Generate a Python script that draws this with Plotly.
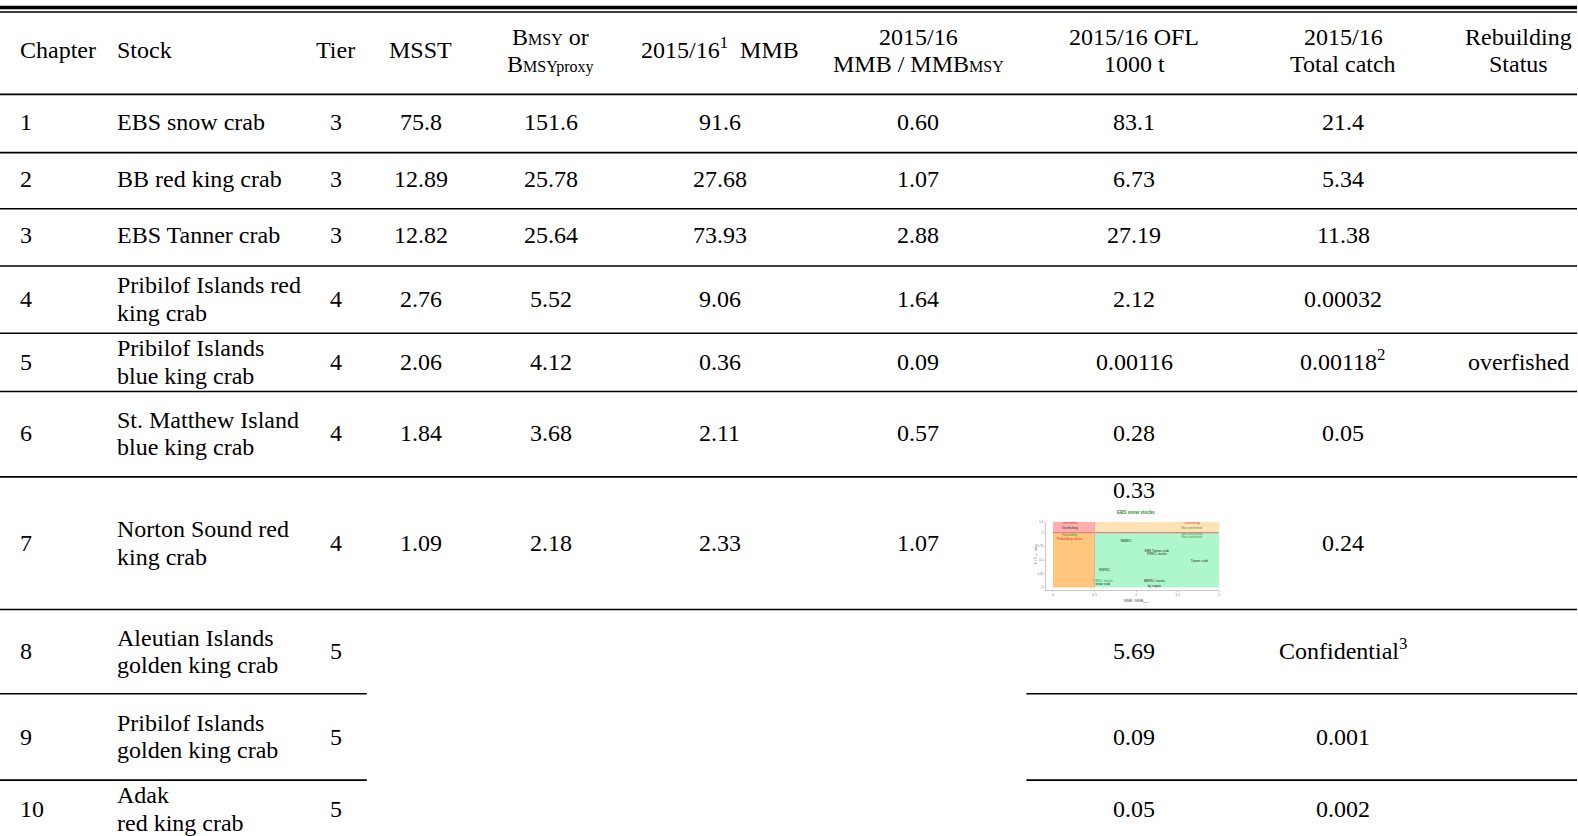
import plotly.graph_objects as go

# ---------------- data ----------------
chapters = ["1", "2", "3", "4", "5", "6", "7", "8", "9", "10"]
stocks = ["EBS snow crab", "BB red king crab", "EBS Tanner crab",
          "Pribilof Islands red<br>king crab", "Pribilof Islands<br>blue king crab",
          "St. Matthew Island<br>blue king crab", "Norton Sound red<br>king crab",
          "Aleutian Islands<br>golden king crab", "Pribilof Islands<br>golden king crab",
          "Adak<br>red king crab"]
tiers = ["3", "3", "3", "4", "4", "4", "4", "5", "5", "5"]
msst = ["75.8", "12.89", "12.82", "2.76", "2.06", "1.84", "1.09", "", "", ""]
bmsy = ["151.6", "25.78", "25.64", "5.52", "4.12", "3.68", "2.18", "", "", ""]
mmb = ["91.6", "27.68", "73.93", "9.06", "0.36", "2.11", "2.33", "", "", ""]
mmb_ratio = ["0.60", "1.07", "2.88", "1.64", "0.09", "0.57", "1.07", "", "", ""]
ofl = ["83.1", "6.73", "27.19", "2.12", "0.00116", "0.28", "0.33", "5.69", "0.09", "0.05"]
total_catch = ["21.4", "5.34", "11.38", "0.00032", "0.00118<sup>2</sup>", "0.05", "0.24",
               "Confidential<sup>3</sup>", "0.001", "0.002"]
status = ["", "", "", "", "overfished", "", "", "", "", ""]

SM = "<span style='font-size:16px'>{}</span>"
headers = ["Chapter", "Stock", "Tier", "MSST",
           "B" + SM.format("MSY") + " or<br>B" + SM.format("MSYproxy"),
           "2015/16<sup>1</sup>  MMB",
           "2015/16<br>MMB / MMB" + SM.format("MSY"),
           "2015/16 OFL<br>1000 t",
           "2015/16<br>Total catch",
           "Rebuilding<br>Status"]

# inset chart (EBS snow stocks) - zones and labels
inset_title = "EBS snow stocks"
zone_x0 = [0.0, 0.0, 0.5, 0.5]
zone_x1 = [0.5, 0.5, 2.0, 2.0]
zone_y0 = [1.0, 0.0, 1.0, 0.0]
zone_y1 = [1.2, 1.0, 1.2, 1.0]
zone_colors = ["#ffb0ae", "#ffc77e", "#ffe2b5", "#aef7cd"]
inset_lab = ["Overfished", "Overfishing", "Rebuilding", "Rebuilding stocks",
             "Overfishing", "Not overfished", "Not overfished", "Not overfished",
             "SMBKC", "EBS Tanner crab", "PIRKC stocks", "Tanner crab",
             "NSRKC", "PIBKC stocks", "snow crab", "BBRKC stocks", "by region"]
inset_lx = [0.2, 0.2, 0.2, 0.2, 1.67, 1.67, 1.67, 1.67, 0.88, 1.25, 1.25, 1.76,
            0.62, 0.6, 0.6, 1.22, 1.22]
inset_ly = [1.17, 1.08, 0.96, 0.89, 1.17, 1.09, 0.98, 0.91, 0.84, 0.67, 0.6, 0.47,
            0.31, 0.12, 0.05, 0.12, 0.03]
inset_lc = ["#e03030", "#222222", "#3a9a3a", "#e03030", "#e03030", "#3a9a3a",
            "#3a9a3a", "#3a9a3a", "#222222", "#222222", "#222222", "#222222",
            "#222222", "#3a9a3a", "#222222", "#222222", "#222222"]
inset_xticks = [0, 0.5, 1, 1.5, 2]

# ---------------- layout constants ----------------
W, H = 1578, 836
FONT = "Liberation Serif"
FS = 24
LINE_GAP = 27.5
col_x = [18, 115, 336, 421, 551, 720, 919, 1135, 1344, 1519]
col_anchor = ["left", "left", "center", "center", "center", "center", "center",
              "center", "center", "center"]
header_y = 48.5
row_y = [120.0, 177.3, 233.8, 297.6, 361.0, 432.5, 542.3, 650.8, 736.4, 809.0]
full_lines = [92.6, 151, 207.3, 264.7, 332.1, 390.5, 476, 608.9]
partial_lines = [693.4, 780]

fig = go.Figure()
annotations = []


def add_cell(text, x, y, anchor, size=FS):
    parts = text.split("<br>")
    n = len(parts)
    for i, p in enumerate(parts):
        if p == "":
            continue
        dy = -2 if "<sup>" in p else 0
        annotations.append(dict(
            x=x, y=y + dy + (i - (n - 1) / 2) * LINE_GAP, xref="x", yref="y",
            text=p, showarrow=False, xanchor=anchor, yanchor="middle",
            font=dict(family=FONT, size=size, color="#000000")))


for j, h in enumerate(headers):
    add_cell(h, col_x[j], header_y, col_anchor[j])

columns = [chapters, stocks, tiers, msst, bmsy, mmb, mmb_ratio, ofl, total_catch, status]
for r in range(len(chapters)):
    for j, col in enumerate(columns):
        y = row_y[r]
        if j == 7 and r == 6:
            y = 489.5  # value sits above the inset picture
        add_cell(col[r], col_x[j], y, col_anchor[j])

shapes = []
# top double rule
shapes.append(dict(type="line", xref="x", yref="y", x0=0, x1=W, y0=5.5, y1=5.5,
                   line=dict(color="black", width=3.3)))
shapes.append(dict(type="line", xref="x", yref="y", x0=0, x1=W, y0=10, y1=10,
                   line=dict(color="black", width=1.4)))
for yl in full_lines:
    shapes.append(dict(type="line", xref="x", yref="y", x0=0, x1=W, y0=yl, y1=yl,
                       line=dict(color="black", width=1.6)))
for yl in partial_lines:
    shapes.append(dict(type="line", xref="x", yref="y", x0=0, x1=367, y0=yl, y1=yl,
                       line=dict(color="black", width=1.6)))
    shapes.append(dict(type="line", xref="x", yref="y", x0=1027, x1=W, y0=yl, y1=yl,
                       line=dict(color="black", width=1.6)))

# inset zones
for x0, x1, y0, y1, c in zip(zone_x0, zone_x1, zone_y0, zone_y1, zone_colors):
    shapes.append(dict(type="rect", xref="x2", yref="y2", x0=x0, x1=x1, y0=y0, y1=y1,
                       fillcolor=c, line=dict(width=0), layer="below"))
shapes.append(dict(type="line", xref="x2", yref="y2", x0=0, x1=2, y0=1, y1=1,
                   line=dict(color="#e58080", width=1.2)))
shapes.append(dict(type="line", xref="x2", yref="y2", x0=0.5, x1=0.5, y0=0, y1=1.2,
                   line=dict(color="#f0a8a0", width=1)))

fig.add_trace(go.Scatter(
    x=inset_lx, y=inset_ly, mode="text", text=inset_lab,
    textfont=dict(family="Arial", size=3.2, color=inset_lc),
    xaxis="x2", yaxis="y2", hoverinfo="skip", showlegend=False))

# invisible dummy trace for main axes
fig.add_trace(go.Scatter(x=[0, W], y=[0, H], mode="markers",
                         marker=dict(opacity=0), hoverinfo="skip", showlegend=False))

annotations.append(dict(x=1137, y=512, xref="x", yref="y", text="<b>" + inset_title + "</b>",
                        showarrow=False, font=dict(family="Arial", size=4.5, color="#2a8a2a")))
annotations.append(dict(x=1137, y=601, xref="x", yref="y", text="MMB / MMB<sub>MSY</sub>",
                        showarrow=False, font=dict(family="Arial", size=3.5, color="#555555")))
annotations.append(dict(x=1037, y=553, xref="x", yref="y", text="F / F<sub>OFL</sub> ratio",
                        textangle=-90, showarrow=False,
                        font=dict(family="Arial", size=3.5, color="#555555")))

px_l, px_r, py_t, py_b = 1047, 1220, 521, 589
fig.update_layout(
    width=W, height=H, margin=dict(l=0, r=0, t=0, b=0),
    paper_bgcolor="white", plot_bgcolor="white", showlegend=False,
    xaxis=dict(range=[0, W], visible=False, domain=[0, 1]),
    yaxis=dict(range=[H, 0], visible=False, domain=[0, 1]),
    xaxis2=dict(domain=[px_l / W, px_r / W], range=[-0.08, 2.0], anchor="y2",
                showgrid=False, zeroline=False, showline=True, linecolor="#cccccc",
                linewidth=1, tickvals=inset_xticks, ticks="outside", ticklen=1.5,
                tickcolor="#cccccc", tickfont=dict(family="Arial", size=3.5, color="#777777")),
    yaxis2=dict(domain=[1 - py_b / H, 1 - py_t / H], range=[-0.04, 1.2], anchor="x2",
                showgrid=False, zeroline=False, showline=True, linecolor="#cccccc",
                linewidth=1, tickvals=[0, 0.25, 0.5, 0.75, 1.0, 1.2], ticks="outside",
                ticklen=1.5, tickcolor="#cccccc",
                tickfont=dict(family="Arial", size=3, color="#777777")),
    shapes=shapes, annotations=annotations,
)

fig.write_html("out.html", config={"displayModeBar": False},
               post_script="document.body.style.margin='0px';document.body.style.overflow='hidden';")
